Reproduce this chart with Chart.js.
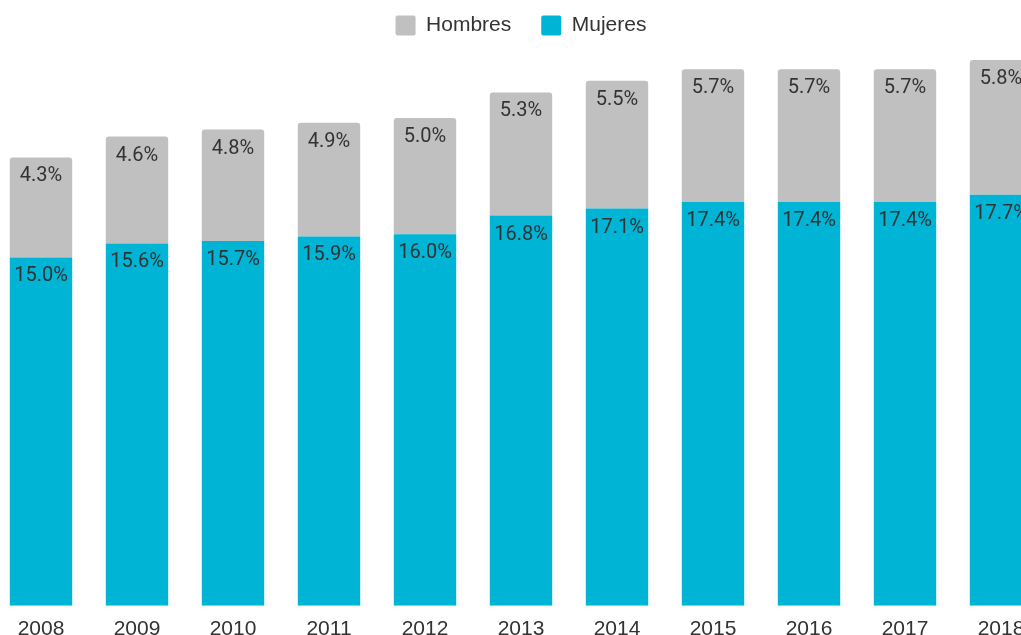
<!DOCTYPE html>
<html lang="es">
<head>
  <meta charset="UTF-8" />
  <title>Hombres y Mujeres 2008-2018</title>
  <script src="https://cdn.jsdelivr.net/npm/chart.js"></script>
  <style>
    html, body {
      margin: 0;
      padding: 0;
      background: #ffffff;
      overflow: hidden;
    }
    .chart-container {
      position: absolute;
      left: -7px;
      top: -15px;
      width: 1056px;
      height: 660px;
    }
  </style>
</head>
<body>
  <div class="chart-container">
    <canvas id="barChart"></canvas>
  </div>
  <script>
const years = ['2008', '2009', '2010', '2011', '2012', '2013', '2014', '2015', '2016', '2017', '2018'];
const mujeres = [15.0, 15.6, 15.7, 15.9, 16.0, 16.8, 17.1, 17.4, 17.4, 17.4, 17.7];
const hombres = [4.3, 4.6, 4.8, 4.9, 5.0, 5.3, 5.5, 5.7, 5.7, 5.7, 5.8];

const TEXT_FONT = '"Liberation Sans", Arial, sans-serif';
const LABEL_FONT = 'Roboto, "Noto Sans", sans-serif';

// value labels just under the top edge of each segment
const segmentLabels = {
  id: 'segmentLabels',
  afterDatasetsDraw(chart) {
    const ctx = chart.ctx;
    ctx.save();
    ctx.font = '20px ' + LABEL_FONT;
    ctx.fillStyle = '#333333';
    ctx.textAlign = 'center';
    ctx.textBaseline = 'middle';
    chart.data.datasets.forEach((ds, i) => {
      chart.getDatasetMeta(i).data.forEach((bar, j) => {
        ctx.fillText(ds.data[j].toFixed(1) + '%', bar.x, bar.y + 19);
      });
    });
    ctx.restore();
  }
};

new Chart(document.getElementById('barChart'), {
  type: 'bar',
  data: {
    labels: years,
    datasets: [
      {
        label: 'Mujeres',
        data: mujeres,
        backgroundColor: '#00b4d6',
        barPercentage: 0.65,
        categoryPercentage: 1.0
      },
      {
        label: 'Hombres',
        data: hombres,
        backgroundColor: '#c0c0c0',
        barPercentage: 0.65,
        categoryPercentage: 1.0,
        borderRadius: { topLeft: 3, topRight: 3, bottomLeft: 0, bottomRight: 0 },
        borderSkipped: false
      }
    ]
  },
  options: {
    responsive: true,
    maintainAspectRatio: false,
    animation: false,
    layout: { padding: 0 },
    scales: {
      x: {
        stacked: true,
        grid: { display: false },
        border: { display: false },
        ticks: {
          color: '#333333',
          font: { family: TEXT_FONT, size: 21 },
          padding: 3,
          maxRotation: 0
        }
      },
      y: {
        stacked: true,
        display: false,
        min: 0,
        max: 24.1
      }
    },
    plugins: {
      legend: {
        reverse: true,
        labels: {
          color: '#333333',
          font: { family: TEXT_FONT, size: 21 },
          boxWidth: 20,
          boxHeight: 20,
          padding: 30,
          useBorderRadius: true,
          borderRadius: 2
        }
      },
      tooltip: { enabled: false }
    }
  },
  plugins: [segmentLabels]
});
  </script>
</body>
</html>
